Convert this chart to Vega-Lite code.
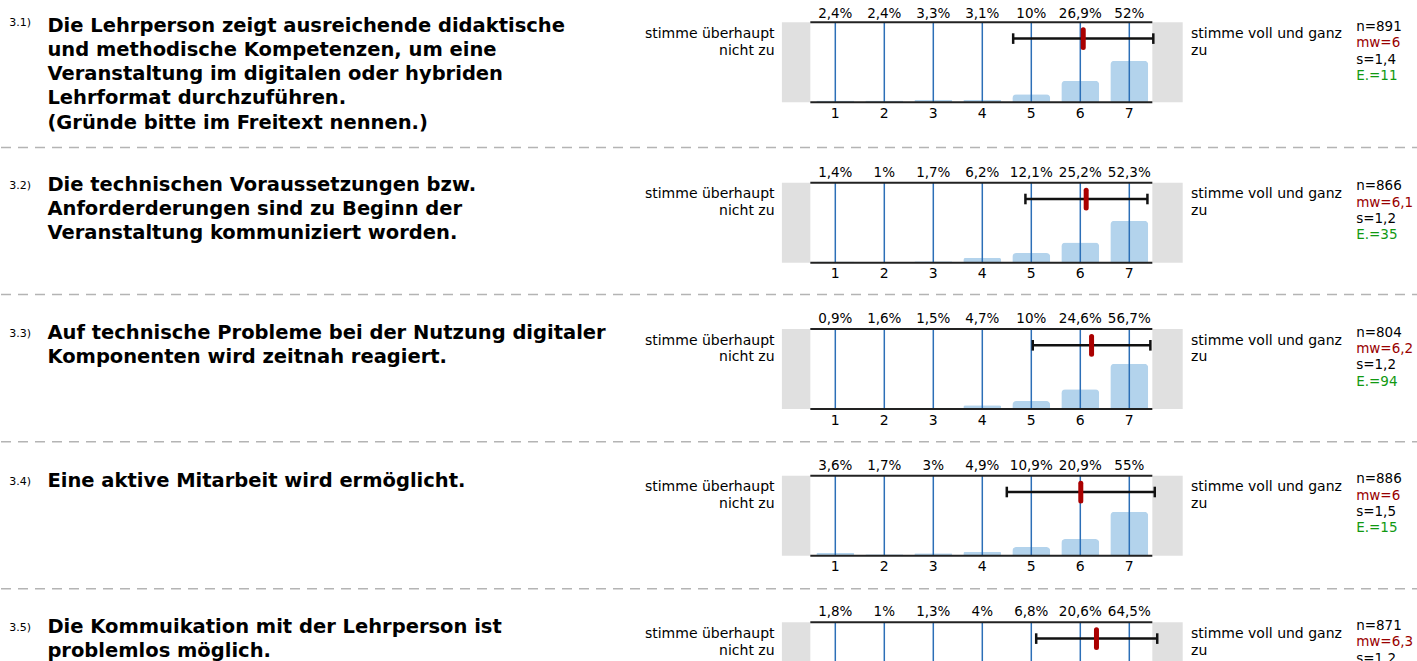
{
"$schema": "https://vega.github.io/schema/vega-lite/v6.json",
"padding": 0,
"background": "white",
"spacing": 0,
"bounds": "flush",
"config": {"view": {"stroke": null}, "text": {"font": "DejaVu Sans", "color": "#000"}, "concat": {"spacing": 0}, "scale": {"continuousPadding": 0}},
"datasets": {
"bars": [
{"q":1,"k":1,"p":2.4},{"q":1,"k":2,"p":2.4},{"q":1,"k":3,"p":3.3},{"q":1,"k":4,"p":3.1},{"q":1,"k":5,"p":10},{"q":1,"k":6,"p":26.9},{"q":1,"k":7,"p":52},
{"q":2,"k":1,"p":1.4},{"q":2,"k":2,"p":1},{"q":2,"k":3,"p":1.7},{"q":2,"k":4,"p":6.2},{"q":2,"k":5,"p":12.1},{"q":2,"k":6,"p":25.2},{"q":2,"k":7,"p":52.3},
{"q":3,"k":1,"p":0.9},{"q":3,"k":2,"p":1.6},{"q":3,"k":3,"p":1.5},{"q":3,"k":4,"p":4.7},{"q":3,"k":5,"p":10},{"q":3,"k":6,"p":24.6},{"q":3,"k":7,"p":56.7},
{"q":4,"k":1,"p":3.6},{"q":4,"k":2,"p":1.7},{"q":4,"k":3,"p":3},{"q":4,"k":4,"p":4.9},{"q":4,"k":5,"p":10.9},{"q":4,"k":6,"p":20.9},{"q":4,"k":7,"p":55},
{"q":5,"k":1,"p":1.8},{"q":5,"k":2,"p":1},{"q":5,"k":3,"p":1.3},{"q":5,"k":4,"p":4},{"q":5,"k":5,"p":6.8},{"q":5,"k":6,"p":20.6},{"q":5,"k":7,"p":64.5}
],
"info": [
{"q":1,"num":"3.1)","qt":"Die Lehrperson zeigt ausreichende didaktische\nund methodische Kompetenzen, um eine\nVeranstaltung im digitalen oder hybriden\nLehrformat durchzuführen.\n(Gründe bitte im Freitext nennen.)","n":891,"mw":6,"s":1.4,"e":11,"mean":6.06,"lo":4.63,"hi":7.49},
{"q":2,"num":"3.2)","qt":"Die technischen Voraussetzungen bzw.\nAnforderderungen sind zu Beginn der\nVeranstaltung kommuniziert worden.","n":866,"mw":6.1,"s":1.2,"e":35,"mean":6.12,"lo":4.88,"hi":7.37},
{"q":3,"num":"3.3)","qt":"Auf technische Probleme bei der Nutzung digitaler\nKomponenten wird zeitnah reagiert.","n":804,"mw":6.2,"s":1.2,"e":94,"mean":6.23,"lo":5.03,"hi":7.43},
{"q":4,"num":"3.4)","qt":"Eine aktive Mitarbeit wird ermöglicht.","n":886,"mw":6,"s":1.5,"e":15,"mean":6.01,"lo":4.5,"hi":7.52},
{"q":5,"num":"3.5)","qt":"Die Kommuikation mit der Lehrperson ist\nproblemlos möglich.","n":871,"mw":6.3,"s":1.2,"e":null,"mean":6.33,"lo":5.1,"hi":7.57}
]
},
"vconcat": [
{
"width": 1417, "height": 147,
"data": {"name": "info"},
"transform": [{"filter": "datum.q == 1"}],
"layer": [
{"mark": {"type": "rect", "color": "#e0e0e0"}, "encoding": {"x": {"datum": -0.09, "type": "quantitative", "scale": {"domain": [-16.027, 12.892], "nice": false, "zero": false, "padding": 0}, "axis": null}, "x2": {"datum": 0.49}, "y": {"datum": 0, "type": "quantitative", "scale": {"domain": [-55.875, 127.875], "nice": false, "zero": false, "padding": 0}, "axis": null}, "y2": {"datum": 100}}},
{"mark": {"type": "rect", "color": "#e0e0e0"}, "encoding": {"x": {"datum": 7.47, "type": "quantitative"}, "x2": {"datum": 8.09}, "y": {"datum": 0, "type": "quantitative"}, "y2": {"datum": 100}}},
{"data": {"name": "bars"}, "transform": [{"filter": "datum.q == 1"}], "mark": {"type": "bar", "orient": "vertical", "width": 38, "color": "#b3d3ec", "cornerRadiusTopLeft": 4, "cornerRadiusTopRight": 4}, "encoding": {"x": {"field": "k", "type": "quantitative"}, "y": {"field": "p", "type": "quantitative"}}},
{"data": {"name": "bars"}, "transform": [{"filter": "datum.q == 1"}], "mark": {"type": "rule", "color": "#2c6fb7", "strokeWidth": 1.5}, "encoding": {"x": {"field": "k", "type": "quantitative"}, "y": {"datum": 0, "type": "quantitative"}, "y2": {"datum": 100}}},
{"mark": {"type": "rule", "color": "#222", "strokeWidth": 2}, "encoding": {"x": {"datum": 0.49, "type": "quantitative"}, "x2": {"datum": 7.47}, "y": {"datum": 100, "type": "quantitative"}}},
{"mark": {"type": "rule", "color": "#222", "strokeWidth": 2}, "encoding": {"x": {"datum": 0.49, "type": "quantitative"}, "x2": {"datum": 7.47}, "y": {"datum": 0, "type": "quantitative"}}},
{"mark": {"type": "rule", "color": "#111", "strokeWidth": 2.5}, "encoding": {"x": {"field": "lo", "type": "quantitative"}, "x2": {"field": "hi"}, "y": {"datum": 79.6, "type": "quantitative"}}},
{"mark": {"type": "rule", "color": "#111", "strokeWidth": 2.5}, "encoding": {"x": {"field": "lo", "type": "quantitative"}, "y": {"datum": 86.25, "type": "quantitative"}, "y2": {"datum": 73}}},
{"mark": {"type": "rule", "color": "#111", "strokeWidth": 2.5}, "encoding": {"x": {"field": "hi", "type": "quantitative"}, "y": {"datum": 86.25, "type": "quantitative"}, "y2": {"datum": 73}}},
{"mark": {"type": "rule", "color": "#aa0000", "strokeWidth": 5, "strokeCap": "round"}, "encoding": {"x": {"field": "mean", "type": "quantitative"}, "y": {"datum": 90.6, "type": "quantitative"}, "y2": {"datum": 68.5}}},
{"data": {"name": "bars"}, "transform": [{"filter": "datum.q == 1"}, {"calculate": "replace(format(datum.p, '.1~f'), '.', ',') + '%'", "as": "t"}], "mark": {"type": "text", "fontSize": 13.5}, "encoding": {"x": {"field": "k", "type": "quantitative"}, "y": {"datum": 110.5, "type": "quantitative"}, "text": {"field": "t"}}},
{"data": {"name": "bars"}, "transform": [{"filter": "datum.q == 1"}], "mark": {"type": "text", "fontSize": 14}, "encoding": {"x": {"field": "k", "type": "quantitative"}, "y": {"datum": -14.4, "type": "quantitative"}, "text": {"field": "k", "type": "nominal"}}},
{"mark": {"type": "text", "align": "right", "baseline": "alphabetic", "lineBreak": "\n", "lineHeight": 16.7, "fontSize": 14}, "encoding": {"x": {"datum": -0.24, "type": "quantitative"}, "y": {"datum": 80.6, "type": "quantitative"}, "text": {"value": "stimme überhaupt\nnicht zu"}}},
{"mark": {"type": "text", "align": "left", "baseline": "alphabetic", "lineBreak": "\n", "lineHeight": 16.7, "fontSize": 14}, "encoding": {"x": {"datum": 8.26, "type": "quantitative"}, "y": {"datum": 80.6, "type": "quantitative"}, "text": {"value": "stimme voll und ganz\nzu"}}},
{"transform": [{"calculate": "'n=' + datum.n", "as": "t"}], "mark": {"type": "text", "align": "left", "baseline": "alphabetic", "fontSize": 13.5, "color": "#000"}, "encoding": {"x": {"datum": 11.63, "type": "quantitative"}, "y": {"datum": 89, "type": "quantitative"}, "text": {"field": "t"}}},
{"transform": [{"calculate": "'mw=' + replace(format(datum.mw, '.1~f'), '.', ',')", "as": "t"}], "mark": {"type": "text", "align": "left", "baseline": "alphabetic", "fontSize": 13.5, "dy": 16.3, "color": "#990000"}, "encoding": {"x": {"datum": 11.63, "type": "quantitative"}, "y": {"datum": 89, "type": "quantitative"}, "text": {"field": "t"}}},
{"transform": [{"calculate": "'s=' + replace(format(datum.s, '.1~f'), '.', ',')", "as": "t"}], "mark": {"type": "text", "align": "left", "baseline": "alphabetic", "fontSize": 13.5, "dy": 32.6, "color": "#000"}, "encoding": {"x": {"datum": 11.63, "type": "quantitative"}, "y": {"datum": 89, "type": "quantitative"}, "text": {"field": "t"}}},
{"transform": [{"calculate": "isValid(datum.e) ? 'E.=' + datum.e : ''", "as": "t"}], "mark": {"type": "text", "align": "left", "baseline": "alphabetic", "fontSize": 13.5, "dy": 48.9, "color": "#119911"}, "encoding": {"x": {"datum": 11.63, "type": "quantitative"}, "y": {"datum": 89, "type": "quantitative"}, "text": {"field": "t"}}},
{"mark": {"type": "text", "align": "left", "baseline": "alphabetic", "lineBreak": "\n", "lineHeight": 24.2, "fontSize": 19.5, "fontWeight": "bold"}, "encoding": {"x": {"datum": -15.08, "type": "quantitative"}, "y": {"datum": 88, "type": "quantitative"}, "text": {"field": "qt"}}},
{"mark": {"type": "text", "align": "left", "baseline": "alphabetic", "fontSize": 11}, "encoding": {"x": {"datum": -15.857, "type": "quantitative"}, "y": {"datum": 95, "type": "quantitative"}, "text": {"field": "num"}}}
]
},
{
"width": 1417, "height": 147,
"data": {"name": "info"},
"transform": [{"filter": "datum.q == 2"}],
"layer": [
{"mark": {"type": "rect", "color": "#e0e0e0"}, "encoding": {"x": {"datum": -0.09, "type": "quantitative", "scale": {"domain": [-16.027, 12.892], "nice": false, "zero": false, "padding": 0}, "axis": null}, "x2": {"datum": 0.49}, "y": {"datum": 0, "type": "quantitative", "scale": {"domain": [-39.125, 144.625], "nice": false, "zero": false, "padding": 0}, "axis": null}, "y2": {"datum": 100}}},
{"mark": {"type": "rule", "color": "#b4b4b4", "strokeWidth": 1.5, "strokeDash": [10, 7]}, "encoding": {"x": {"datum": -16.027, "type": "quantitative"}, "x2": {"datum": 12.892}, "y": {"datum": 144.0, "type": "quantitative"}}},
{"mark": {"type": "rect", "color": "#e0e0e0"}, "encoding": {"x": {"datum": 7.47, "type": "quantitative"}, "x2": {"datum": 8.09}, "y": {"datum": 0, "type": "quantitative"}, "y2": {"datum": 100}}},
{"data": {"name": "bars"}, "transform": [{"filter": "datum.q == 2"}], "mark": {"type": "bar", "orient": "vertical", "width": 38, "color": "#b3d3ec", "cornerRadiusTopLeft": 4, "cornerRadiusTopRight": 4}, "encoding": {"x": {"field": "k", "type": "quantitative"}, "y": {"field": "p", "type": "quantitative"}}},
{"data": {"name": "bars"}, "transform": [{"filter": "datum.q == 2"}], "mark": {"type": "rule", "color": "#2c6fb7", "strokeWidth": 1.5}, "encoding": {"x": {"field": "k", "type": "quantitative"}, "y": {"datum": 0, "type": "quantitative"}, "y2": {"datum": 100}}},
{"mark": {"type": "rule", "color": "#222", "strokeWidth": 2}, "encoding": {"x": {"datum": 0.49, "type": "quantitative"}, "x2": {"datum": 7.47}, "y": {"datum": 100, "type": "quantitative"}}},
{"mark": {"type": "rule", "color": "#222", "strokeWidth": 2}, "encoding": {"x": {"datum": 0.49, "type": "quantitative"}, "x2": {"datum": 7.47}, "y": {"datum": 0, "type": "quantitative"}}},
{"mark": {"type": "rule", "color": "#111", "strokeWidth": 2.5}, "encoding": {"x": {"field": "lo", "type": "quantitative"}, "x2": {"field": "hi"}, "y": {"datum": 79.6, "type": "quantitative"}}},
{"mark": {"type": "rule", "color": "#111", "strokeWidth": 2.5}, "encoding": {"x": {"field": "lo", "type": "quantitative"}, "y": {"datum": 86.25, "type": "quantitative"}, "y2": {"datum": 73}}},
{"mark": {"type": "rule", "color": "#111", "strokeWidth": 2.5}, "encoding": {"x": {"field": "hi", "type": "quantitative"}, "y": {"datum": 86.25, "type": "quantitative"}, "y2": {"datum": 73}}},
{"mark": {"type": "rule", "color": "#aa0000", "strokeWidth": 5, "strokeCap": "round"}, "encoding": {"x": {"field": "mean", "type": "quantitative"}, "y": {"datum": 90.6, "type": "quantitative"}, "y2": {"datum": 68.5}}},
{"data": {"name": "bars"}, "transform": [{"filter": "datum.q == 2"}, {"calculate": "replace(format(datum.p, '.1~f'), '.', ',') + '%'", "as": "t"}], "mark": {"type": "text", "fontSize": 13.5}, "encoding": {"x": {"field": "k", "type": "quantitative"}, "y": {"datum": 112.5, "type": "quantitative"}, "text": {"field": "t"}}},
{"data": {"name": "bars"}, "transform": [{"filter": "datum.q == 2"}], "mark": {"type": "text", "fontSize": 14}, "encoding": {"x": {"field": "k", "type": "quantitative"}, "y": {"datum": -14.4, "type": "quantitative"}, "text": {"field": "k", "type": "nominal"}}},
{"mark": {"type": "text", "align": "right", "baseline": "alphabetic", "lineBreak": "\n", "lineHeight": 16.7, "fontSize": 14}, "encoding": {"x": {"datum": -0.24, "type": "quantitative"}, "y": {"datum": 80.6, "type": "quantitative"}, "text": {"value": "stimme überhaupt\nnicht zu"}}},
{"mark": {"type": "text", "align": "left", "baseline": "alphabetic", "lineBreak": "\n", "lineHeight": 16.7, "fontSize": 14}, "encoding": {"x": {"datum": 8.26, "type": "quantitative"}, "y": {"datum": 80.6, "type": "quantitative"}, "text": {"value": "stimme voll und ganz\nzu"}}},
{"transform": [{"calculate": "'n=' + datum.n", "as": "t"}], "mark": {"type": "text", "align": "left", "baseline": "alphabetic", "fontSize": 13.5, "color": "#000"}, "encoding": {"x": {"datum": 11.63, "type": "quantitative"}, "y": {"datum": 90.4, "type": "quantitative"}, "text": {"field": "t"}}},
{"transform": [{"calculate": "'mw=' + replace(format(datum.mw, '.1~f'), '.', ',')", "as": "t"}], "mark": {"type": "text", "align": "left", "baseline": "alphabetic", "fontSize": 13.5, "dy": 16.3, "color": "#990000"}, "encoding": {"x": {"datum": 11.63, "type": "quantitative"}, "y": {"datum": 90.4, "type": "quantitative"}, "text": {"field": "t"}}},
{"transform": [{"calculate": "'s=' + replace(format(datum.s, '.1~f'), '.', ',')", "as": "t"}], "mark": {"type": "text", "align": "left", "baseline": "alphabetic", "fontSize": 13.5, "dy": 32.6, "color": "#000"}, "encoding": {"x": {"datum": 11.63, "type": "quantitative"}, "y": {"datum": 90.4, "type": "quantitative"}, "text": {"field": "t"}}},
{"transform": [{"calculate": "isValid(datum.e) ? 'E.=' + datum.e : ''", "as": "t"}], "mark": {"type": "text", "align": "left", "baseline": "alphabetic", "fontSize": 13.5, "dy": 48.9, "color": "#119911"}, "encoding": {"x": {"datum": 11.63, "type": "quantitative"}, "y": {"datum": 90.4, "type": "quantitative"}, "text": {"field": "t"}}},
{"mark": {"type": "text", "align": "left", "baseline": "alphabetic", "lineBreak": "\n", "lineHeight": 24.2, "fontSize": 19.5, "fontWeight": "bold"}, "encoding": {"x": {"datum": -15.08, "type": "quantitative"}, "y": {"datum": 90, "type": "quantitative"}, "text": {"field": "qt"}}},
{"mark": {"type": "text", "align": "left", "baseline": "alphabetic", "fontSize": 11}, "encoding": {"x": {"datum": -15.857, "type": "quantitative"}, "y": {"datum": 92.5, "type": "quantitative"}, "text": {"field": "num"}}}
]
},
{
"width": 1417, "height": 147,
"data": {"name": "info"},
"transform": [{"filter": "datum.q == 3"}],
"layer": [
{"mark": {"type": "rect", "color": "#e0e0e0"}, "encoding": {"x": {"datum": -0.09, "type": "quantitative", "scale": {"domain": [-16.027, 12.892], "nice": false, "zero": false, "padding": 0}, "axis": null}, "x2": {"datum": 0.49}, "y": {"datum": 0, "type": "quantitative", "scale": {"domain": [-40, 143.75], "nice": false, "zero": false, "padding": 0}, "axis": null}, "y2": {"datum": 100}}},
{"mark": {"type": "rule", "color": "#b4b4b4", "strokeWidth": 1.5, "strokeDash": [10, 7]}, "encoding": {"x": {"datum": -16.027, "type": "quantitative"}, "x2": {"datum": 12.892}, "y": {"datum": 143.1, "type": "quantitative"}}},
{"mark": {"type": "rect", "color": "#e0e0e0"}, "encoding": {"x": {"datum": 7.47, "type": "quantitative"}, "x2": {"datum": 8.09}, "y": {"datum": 0, "type": "quantitative"}, "y2": {"datum": 100}}},
{"data": {"name": "bars"}, "transform": [{"filter": "datum.q == 3"}], "mark": {"type": "bar", "orient": "vertical", "width": 38, "color": "#b3d3ec", "cornerRadiusTopLeft": 4, "cornerRadiusTopRight": 4}, "encoding": {"x": {"field": "k", "type": "quantitative"}, "y": {"field": "p", "type": "quantitative"}}},
{"data": {"name": "bars"}, "transform": [{"filter": "datum.q == 3"}], "mark": {"type": "rule", "color": "#2c6fb7", "strokeWidth": 1.5}, "encoding": {"x": {"field": "k", "type": "quantitative"}, "y": {"datum": 0, "type": "quantitative"}, "y2": {"datum": 100}}},
{"mark": {"type": "rule", "color": "#222", "strokeWidth": 2}, "encoding": {"x": {"datum": 0.49, "type": "quantitative"}, "x2": {"datum": 7.47}, "y": {"datum": 100, "type": "quantitative"}}},
{"mark": {"type": "rule", "color": "#222", "strokeWidth": 2}, "encoding": {"x": {"datum": 0.49, "type": "quantitative"}, "x2": {"datum": 7.47}, "y": {"datum": 0, "type": "quantitative"}}},
{"mark": {"type": "rule", "color": "#111", "strokeWidth": 2.5}, "encoding": {"x": {"field": "lo", "type": "quantitative"}, "x2": {"field": "hi"}, "y": {"datum": 79.6, "type": "quantitative"}}},
{"mark": {"type": "rule", "color": "#111", "strokeWidth": 2.5}, "encoding": {"x": {"field": "lo", "type": "quantitative"}, "y": {"datum": 86.25, "type": "quantitative"}, "y2": {"datum": 73}}},
{"mark": {"type": "rule", "color": "#111", "strokeWidth": 2.5}, "encoding": {"x": {"field": "hi", "type": "quantitative"}, "y": {"datum": 86.25, "type": "quantitative"}, "y2": {"datum": 73}}},
{"mark": {"type": "rule", "color": "#aa0000", "strokeWidth": 5, "strokeCap": "round"}, "encoding": {"x": {"field": "mean", "type": "quantitative"}, "y": {"datum": 90.6, "type": "quantitative"}, "y2": {"datum": 68.5}}},
{"data": {"name": "bars"}, "transform": [{"filter": "datum.q == 3"}, {"calculate": "replace(format(datum.p, '.1~f'), '.', ',') + '%'", "as": "t"}], "mark": {"type": "text", "fontSize": 13.5}, "encoding": {"x": {"field": "k", "type": "quantitative"}, "y": {"datum": 112.5, "type": "quantitative"}, "text": {"field": "t"}}},
{"data": {"name": "bars"}, "transform": [{"filter": "datum.q == 3"}], "mark": {"type": "text", "fontSize": 14}, "encoding": {"x": {"field": "k", "type": "quantitative"}, "y": {"datum": -14.4, "type": "quantitative"}, "text": {"field": "k", "type": "nominal"}}},
{"mark": {"type": "text", "align": "right", "baseline": "alphabetic", "lineBreak": "\n", "lineHeight": 16.7, "fontSize": 14}, "encoding": {"x": {"datum": -0.24, "type": "quantitative"}, "y": {"datum": 80.6, "type": "quantitative"}, "text": {"value": "stimme überhaupt\nnicht zu"}}},
{"mark": {"type": "text", "align": "left", "baseline": "alphabetic", "lineBreak": "\n", "lineHeight": 16.7, "fontSize": 14}, "encoding": {"x": {"datum": 8.26, "type": "quantitative"}, "y": {"datum": 80.6, "type": "quantitative"}, "text": {"value": "stimme voll und ganz\nzu"}}},
{"transform": [{"calculate": "'n=' + datum.n", "as": "t"}], "mark": {"type": "text", "align": "left", "baseline": "alphabetic", "fontSize": 13.5, "color": "#000"}, "encoding": {"x": {"datum": 11.63, "type": "quantitative"}, "y": {"datum": 90.4, "type": "quantitative"}, "text": {"field": "t"}}},
{"transform": [{"calculate": "'mw=' + replace(format(datum.mw, '.1~f'), '.', ',')", "as": "t"}], "mark": {"type": "text", "align": "left", "baseline": "alphabetic", "fontSize": 13.5, "dy": 16.3, "color": "#990000"}, "encoding": {"x": {"datum": 11.63, "type": "quantitative"}, "y": {"datum": 90.4, "type": "quantitative"}, "text": {"field": "t"}}},
{"transform": [{"calculate": "'s=' + replace(format(datum.s, '.1~f'), '.', ',')", "as": "t"}], "mark": {"type": "text", "align": "left", "baseline": "alphabetic", "fontSize": 13.5, "dy": 32.6, "color": "#000"}, "encoding": {"x": {"datum": 11.63, "type": "quantitative"}, "y": {"datum": 90.4, "type": "quantitative"}, "text": {"field": "t"}}},
{"transform": [{"calculate": "isValid(datum.e) ? 'E.=' + datum.e : ''", "as": "t"}], "mark": {"type": "text", "align": "left", "baseline": "alphabetic", "fontSize": 13.5, "dy": 48.9, "color": "#119911"}, "encoding": {"x": {"datum": 11.63, "type": "quantitative"}, "y": {"datum": 90.4, "type": "quantitative"}, "text": {"field": "t"}}},
{"mark": {"type": "text", "align": "left", "baseline": "alphabetic", "lineBreak": "\n", "lineHeight": 24.2, "fontSize": 19.5, "fontWeight": "bold"}, "encoding": {"x": {"datum": -15.08, "type": "quantitative"}, "y": {"datum": 87.5, "type": "quantitative"}, "text": {"field": "qt"}}},
{"mark": {"type": "text", "align": "left", "baseline": "alphabetic", "fontSize": 11}, "encoding": {"x": {"datum": -15.857, "type": "quantitative"}, "y": {"datum": 90, "type": "quantitative"}, "text": {"field": "num"}}}
]
},
{
"width": 1417, "height": 147,
"data": {"name": "info"},
"transform": [{"filter": "datum.q == 4"}],
"layer": [
{"mark": {"type": "rect", "color": "#e0e0e0"}, "encoding": {"x": {"datum": -0.09, "type": "quantitative", "scale": {"domain": [-16.027, 12.892], "nice": false, "zero": false, "padding": 0}, "axis": null}, "x2": {"datum": 0.49}, "y": {"datum": 0, "type": "quantitative", "scale": {"domain": [-40.375, 143.375], "nice": false, "zero": false, "padding": 0}, "axis": null}, "y2": {"datum": 100}}},
{"mark": {"type": "rule", "color": "#b4b4b4", "strokeWidth": 1.5, "strokeDash": [10, 7]}, "encoding": {"x": {"datum": -16.027, "type": "quantitative"}, "x2": {"datum": 12.892}, "y": {"datum": 142.5, "type": "quantitative"}}},
{"mark": {"type": "rect", "color": "#e0e0e0"}, "encoding": {"x": {"datum": 7.47, "type": "quantitative"}, "x2": {"datum": 8.09}, "y": {"datum": 0, "type": "quantitative"}, "y2": {"datum": 100}}},
{"data": {"name": "bars"}, "transform": [{"filter": "datum.q == 4"}], "mark": {"type": "bar", "orient": "vertical", "width": 38, "color": "#b3d3ec", "cornerRadiusTopLeft": 4, "cornerRadiusTopRight": 4}, "encoding": {"x": {"field": "k", "type": "quantitative"}, "y": {"field": "p", "type": "quantitative"}}},
{"data": {"name": "bars"}, "transform": [{"filter": "datum.q == 4"}], "mark": {"type": "rule", "color": "#2c6fb7", "strokeWidth": 1.5}, "encoding": {"x": {"field": "k", "type": "quantitative"}, "y": {"datum": 0, "type": "quantitative"}, "y2": {"datum": 100}}},
{"mark": {"type": "rule", "color": "#222", "strokeWidth": 2}, "encoding": {"x": {"datum": 0.49, "type": "quantitative"}, "x2": {"datum": 7.47}, "y": {"datum": 100, "type": "quantitative"}}},
{"mark": {"type": "rule", "color": "#222", "strokeWidth": 2}, "encoding": {"x": {"datum": 0.49, "type": "quantitative"}, "x2": {"datum": 7.47}, "y": {"datum": 0, "type": "quantitative"}}},
{"mark": {"type": "rule", "color": "#111", "strokeWidth": 2.5}, "encoding": {"x": {"field": "lo", "type": "quantitative"}, "x2": {"field": "hi"}, "y": {"datum": 79.6, "type": "quantitative"}}},
{"mark": {"type": "rule", "color": "#111", "strokeWidth": 2.5}, "encoding": {"x": {"field": "lo", "type": "quantitative"}, "y": {"datum": 86.25, "type": "quantitative"}, "y2": {"datum": 73}}},
{"mark": {"type": "rule", "color": "#111", "strokeWidth": 2.5}, "encoding": {"x": {"field": "hi", "type": "quantitative"}, "y": {"datum": 86.25, "type": "quantitative"}, "y2": {"datum": 73}}},
{"mark": {"type": "rule", "color": "#aa0000", "strokeWidth": 5, "strokeCap": "round"}, "encoding": {"x": {"field": "mean", "type": "quantitative"}, "y": {"datum": 90.6, "type": "quantitative"}, "y2": {"datum": 68.5}}},
{"data": {"name": "bars"}, "transform": [{"filter": "datum.q == 4"}, {"calculate": "replace(format(datum.p, '.1~f'), '.', ',') + '%'", "as": "t"}], "mark": {"type": "text", "fontSize": 13.5}, "encoding": {"x": {"field": "k", "type": "quantitative"}, "y": {"datum": 112.5, "type": "quantitative"}, "text": {"field": "t"}}},
{"data": {"name": "bars"}, "transform": [{"filter": "datum.q == 4"}], "mark": {"type": "text", "fontSize": 14}, "encoding": {"x": {"field": "k", "type": "quantitative"}, "y": {"datum": -14.4, "type": "quantitative"}, "text": {"field": "k", "type": "nominal"}}},
{"mark": {"type": "text", "align": "right", "baseline": "alphabetic", "lineBreak": "\n", "lineHeight": 16.7, "fontSize": 14}, "encoding": {"x": {"datum": -0.24, "type": "quantitative"}, "y": {"datum": 80.6, "type": "quantitative"}, "text": {"value": "stimme überhaupt\nnicht zu"}}},
{"mark": {"type": "text", "align": "left", "baseline": "alphabetic", "lineBreak": "\n", "lineHeight": 16.7, "fontSize": 14}, "encoding": {"x": {"datum": 8.26, "type": "quantitative"}, "y": {"datum": 80.6, "type": "quantitative"}, "text": {"value": "stimme voll und ganz\nzu"}}},
{"transform": [{"calculate": "'n=' + datum.n", "as": "t"}], "mark": {"type": "text", "align": "left", "baseline": "alphabetic", "fontSize": 13.5, "color": "#000"}, "encoding": {"x": {"datum": 11.63, "type": "quantitative"}, "y": {"datum": 90.4, "type": "quantitative"}, "text": {"field": "t"}}},
{"transform": [{"calculate": "'mw=' + replace(format(datum.mw, '.1~f'), '.', ',')", "as": "t"}], "mark": {"type": "text", "align": "left", "baseline": "alphabetic", "fontSize": 13.5, "dy": 16.3, "color": "#990000"}, "encoding": {"x": {"datum": 11.63, "type": "quantitative"}, "y": {"datum": 90.4, "type": "quantitative"}, "text": {"field": "t"}}},
{"transform": [{"calculate": "'s=' + replace(format(datum.s, '.1~f'), '.', ',')", "as": "t"}], "mark": {"type": "text", "align": "left", "baseline": "alphabetic", "fontSize": 13.5, "dy": 32.6, "color": "#000"}, "encoding": {"x": {"datum": 11.63, "type": "quantitative"}, "y": {"datum": 90.4, "type": "quantitative"}, "text": {"field": "t"}}},
{"transform": [{"calculate": "isValid(datum.e) ? 'E.=' + datum.e : ''", "as": "t"}], "mark": {"type": "text", "align": "left", "baseline": "alphabetic", "fontSize": 13.5, "dy": 48.9, "color": "#119911"}, "encoding": {"x": {"datum": 11.63, "type": "quantitative"}, "y": {"datum": 90.4, "type": "quantitative"}, "text": {"field": "t"}}},
{"mark": {"type": "text", "align": "left", "baseline": "alphabetic", "lineBreak": "\n", "lineHeight": 24.2, "fontSize": 19.5, "fontWeight": "bold"}, "encoding": {"x": {"datum": -15.08, "type": "quantitative"}, "y": {"datum": 86.25, "type": "quantitative"}, "text": {"field": "qt"}}},
{"mark": {"type": "text", "align": "left", "baseline": "alphabetic", "fontSize": 11}, "encoding": {"x": {"datum": -15.857, "type": "quantitative"}, "y": {"datum": 88.75, "type": "quantitative"}, "text": {"field": "num"}}}
]
},
{
"width": 1417, "height": 73,
"data": {"name": "info"},
"transform": [{"filter": "datum.q == 5"}],
"layer": [
{"mark": {"type": "rect", "color": "#e0e0e0", "clip": true}, "encoding": {"x": {"datum": -0.09, "type": "quantitative", "scale": {"domain": [-16.027, 12.892], "nice": false, "zero": false, "padding": 0}, "axis": null}, "x2": {"datum": 0.49}, "y": {"datum": 0, "type": "quantitative", "scale": {"domain": [51.625, 142.875], "nice": false, "zero": false, "padding": 0}, "axis": null}, "y2": {"datum": 100}}},
{"mark": {"type": "rule", "color": "#b4b4b4", "strokeWidth": 1.5, "strokeDash": [10, 7]}, "encoding": {"x": {"datum": -16.027, "type": "quantitative"}, "x2": {"datum": 12.892}, "y": {"datum": 142.0, "type": "quantitative"}}},
{"mark": {"type": "rect", "color": "#e0e0e0", "clip": true}, "encoding": {"x": {"datum": 7.47, "type": "quantitative"}, "x2": {"datum": 8.09}, "y": {"datum": 0, "type": "quantitative"}, "y2": {"datum": 100}}},
{"data": {"name": "bars"}, "transform": [{"filter": "datum.q == 5"}], "mark": {"type": "bar", "orient": "vertical", "width": 38, "color": "#b3d3ec", "cornerRadiusTopLeft": 4, "cornerRadiusTopRight": 4, "clip": true}, "encoding": {"x": {"field": "k", "type": "quantitative"}, "y": {"field": "p", "type": "quantitative"}}},
{"data": {"name": "bars"}, "transform": [{"filter": "datum.q == 5"}], "mark": {"type": "rule", "color": "#2c6fb7", "strokeWidth": 1.5, "clip": true}, "encoding": {"x": {"field": "k", "type": "quantitative"}, "y": {"datum": 0, "type": "quantitative"}, "y2": {"datum": 100}}},
{"mark": {"type": "rule", "color": "#222", "strokeWidth": 2}, "encoding": {"x": {"datum": 0.49, "type": "quantitative"}, "x2": {"datum": 7.47}, "y": {"datum": 100, "type": "quantitative"}}},
{"mark": {"type": "rule", "color": "#111", "strokeWidth": 2.5}, "encoding": {"x": {"field": "lo", "type": "quantitative"}, "x2": {"field": "hi"}, "y": {"datum": 79.6, "type": "quantitative"}}},
{"mark": {"type": "rule", "color": "#111", "strokeWidth": 2.5}, "encoding": {"x": {"field": "lo", "type": "quantitative"}, "y": {"datum": 86.25, "type": "quantitative"}, "y2": {"datum": 73}}},
{"mark": {"type": "rule", "color": "#111", "strokeWidth": 2.5}, "encoding": {"x": {"field": "hi", "type": "quantitative"}, "y": {"datum": 86.25, "type": "quantitative"}, "y2": {"datum": 73}}},
{"mark": {"type": "rule", "color": "#aa0000", "strokeWidth": 5, "strokeCap": "round"}, "encoding": {"x": {"field": "mean", "type": "quantitative"}, "y": {"datum": 90.6, "type": "quantitative"}, "y2": {"datum": 68.5}}},
{"data": {"name": "bars"}, "transform": [{"filter": "datum.q == 5"}, {"calculate": "replace(format(datum.p, '.1~f'), '.', ',') + '%'", "as": "t"}], "mark": {"type": "text", "fontSize": 13.5}, "encoding": {"x": {"field": "k", "type": "quantitative"}, "y": {"datum": 112.5, "type": "quantitative"}, "text": {"field": "t"}}},
{"mark": {"type": "text", "align": "right", "baseline": "alphabetic", "lineBreak": "\n", "lineHeight": 16.7, "fontSize": 14, "clip": true}, "encoding": {"x": {"datum": -0.24, "type": "quantitative"}, "y": {"datum": 80.6, "type": "quantitative"}, "text": {"value": "stimme überhaupt\nnicht zu"}}},
{"mark": {"type": "text", "align": "left", "baseline": "alphabetic", "lineBreak": "\n", "lineHeight": 16.7, "fontSize": 14, "clip": true}, "encoding": {"x": {"datum": 8.26, "type": "quantitative"}, "y": {"datum": 80.6, "type": "quantitative"}, "text": {"value": "stimme voll und ganz\nzu"}}},
{"transform": [{"calculate": "'n=' + datum.n", "as": "t"}], "mark": {"type": "text", "align": "left", "baseline": "alphabetic", "fontSize": 13.5, "color": "#000", "clip": true}, "encoding": {"x": {"datum": 11.63, "type": "quantitative"}, "y": {"datum": 90.4, "type": "quantitative"}, "text": {"field": "t"}}},
{"transform": [{"calculate": "'mw=' + replace(format(datum.mw, '.1~f'), '.', ',')", "as": "t"}], "mark": {"type": "text", "align": "left", "baseline": "alphabetic", "fontSize": 13.5, "dy": 16.3, "color": "#990000", "clip": true}, "encoding": {"x": {"datum": 11.63, "type": "quantitative"}, "y": {"datum": 90.4, "type": "quantitative"}, "text": {"field": "t"}}},
{"transform": [{"calculate": "'s=' + replace(format(datum.s, '.1~f'), '.', ',')", "as": "t"}], "mark": {"type": "text", "align": "left", "baseline": "alphabetic", "fontSize": 13.5, "dy": 32.6, "color": "#000", "clip": true}, "encoding": {"x": {"datum": 11.63, "type": "quantitative"}, "y": {"datum": 90.4, "type": "quantitative"}, "text": {"field": "t"}}},
{"mark": {"type": "text", "align": "left", "baseline": "alphabetic", "lineBreak": "\n", "lineHeight": 24.2, "fontSize": 19.5, "fontWeight": "bold", "clip": true}, "encoding": {"x": {"datum": -15.08, "type": "quantitative"}, "y": {"datum": 86.6, "type": "quantitative"}, "text": {"field": "qt"}}},
{"mark": {"type": "text", "align": "left", "baseline": "alphabetic", "fontSize": 11}, "encoding": {"x": {"datum": -15.857, "type": "quantitative"}, "y": {"datum": 89.1, "type": "quantitative"}, "text": {"field": "num"}}}
]
}
]
}
